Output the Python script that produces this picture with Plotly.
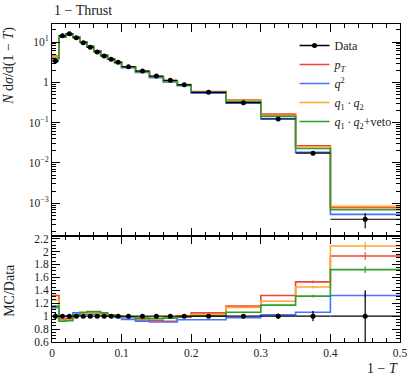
import plotly.graph_objects as go
from plotly.subplots import make_subplots

# 1-T binning (ALEPH thrust)
edges = [0, 0.01, 0.02, 0.03, 0.04, 0.05, 0.06, 0.07, 0.08, 0.09, 0.1,
         0.12, 0.14, 0.16, 0.18, 0.2, 0.25, 0.3, 0.35, 0.4, 0.5]

# measured N dsigma/d(1-T)
data = [3.4, 14.3, 16.1, 12.8, 9.6, 7.4, 5.65, 4.5, 3.72, 3.13,
        2.44, 1.91, 1.43, 1.12, 0.87, 0.565, 0.312, 0.123, 0.0174, 0.0004]
data_relerr = [0.05, 0.02, 0.02, 0.02, 0.02, 0.02, 0.02, 0.02, 0.02, 0.02,
               0.02, 0.02, 0.02, 0.02, 0.025, 0.03, 0.03, 0.04, 0.08, 0.4]

# MC / Data ratios
ratio_pt = [1.32, 0.95, 0.96, 1.02, 1.04, 1.04, 1.04, 1.03, 1.01, 1.0,
            0.98, 0.94, 0.93, 0.92, 0.985, 1.05, 1.155, 1.32, 1.53, 1.93]
ratio_q2 = [1.13, 1.0, 0.99, 1.05, 1.04, 1.03, 1.03, 1.02, 1.0, 0.98,
            0.95, 0.92, 0.91, 0.91, 0.945, 0.945, 0.975, 1.02, 1.06, 1.32]
ratio_q1q2 = [1.25, 0.935, 0.94, 1.02, 1.05, 1.05, 1.05, 1.03, 1.01, 1.0,
              0.985, 0.98, 0.97, 0.985, 1.01, 1.02, 1.135, 1.23, 1.45, 2.085]
ratio_veto = [1.155, 0.92, 0.93, 1.02, 1.06, 1.07, 1.07, 1.05, 1.02, 1.0,
              0.99, 0.97, 0.96, 0.97, 0.995, 1.0, 1.06, 1.17, 1.31, 1.72]
mc_relerr = [0.01, 0.003, 0.003, 0.003, 0.003, 0.003, 0.003, 0.003, 0.003, 0.003,
             0.003, 0.003, 0.003, 0.004, 0.004, 0.005, 0.006, 0.008, 0.015, 0.03]

generators = [
    ("<i>p</i><sub><i>T</i></sub>", "#EE4430", ratio_pt),
    ("<i>q</i><sup>2</sup>", "#4473FF", ratio_q2),
    ("<i>q</i><sub>1</sub>\u2009·\u2009<i>q</i><sub>2</sub>", "#FFA733", ratio_q1q2),
    ("<i>q</i><sub>1</sub>\u2009·\u2009<i>q</i><sub>2</sub>+veto", "#2E9E2E", ratio_veto),
]

FONT = "Liberation Serif"
centers = [(a + b) / 2 for a, b in zip(edges[:-1], edges[1:])]
halfw = [(b - a) / 2 for a, b in zip(edges[:-1], edges[1:])]

fig = make_subplots(rows=2, cols=1, shared_xaxes=True, vertical_spacing=0,
                    row_heights=[2 / 3, 1 / 3])

for rank, (name, color, ratio) in enumerate(generators):
    mc = [d * r for d, r in zip(data, ratio)]
    fig.add_trace(go.Scatter(x=edges, y=mc + [mc[-1]], mode="lines", name=name,
                             line=dict(color=color, width=1.6, shape="hv"),
                             legendrank=rank + 2), row=1, col=1)
    fig.add_trace(go.Scatter(x=centers, y=mc, mode="markers", showlegend=False,
                             marker=dict(size=1, color=color, opacity=0),
                             error_y=dict(type="data", array=[m * e for m, e in zip(mc, mc_relerr)],
                                          color=color, thickness=1.2, width=0)), row=1, col=1)
    fig.add_trace(go.Scatter(x=edges, y=ratio + [ratio[-1]], mode="lines", showlegend=False,
                             line=dict(color=color, width=1.6, shape="hv")), row=2, col=1)
    fig.add_trace(go.Scatter(x=centers, y=ratio, mode="markers", showlegend=False,
                             marker=dict(size=1, color=color, opacity=0),
                             error_y=dict(type="data", array=[r * e for r, e in zip(ratio, mc_relerr)],
                                          color=color, thickness=1.2, width=0)), row=2, col=1)

# data on top
fig.add_trace(go.Scatter(x=centers, y=data, mode="markers", showlegend=False,
                         marker=dict(size=5, color="black"),
                         error_x=dict(type="data", array=halfw, color="black", thickness=1.2, width=0),
                         error_y=dict(type="data", array=[d * e for d, e in zip(data, data_relerr)],
                                      color="black", thickness=1.2, width=0)), row=1, col=1)
fig.add_trace(go.Scatter(x=centers, y=[1] * len(centers), mode="markers", showlegend=False,
                         marker=dict(size=5, color="black"),
                         error_x=dict(type="data", array=halfw, color="black", thickness=1.2, width=0),
                         error_y=dict(type="data", array=data_relerr, color="black", thickness=1.2, width=0)),
              row=2, col=1)
# legend entry for data
fig.add_trace(go.Scatter(x=[None], y=[None], mode="lines+markers", name="Data", legendrank=1,
                         line=dict(color="black", width=1.6), marker=dict(size=5, color="black")),
              row=1, col=1)

axis_common = dict(showline=True, linecolor="black", linewidth=1, mirror="ticks",
                   ticks="inside", ticklen=8, tickcolor="black", showgrid=False, zeroline=False,
                   tickfont=dict(family=FONT, size=11.5, color="#222"))
minor_x = dict(dtick=0.02, ticks="inside", ticklen=4, tickcolor="black", showgrid=False)

fig.update_xaxes(range=[0, 0.5], tickvals=[0, 0.1, 0.2, 0.3, 0.4, 0.5], minor=minor_x, **axis_common)
fig.update_xaxes(showticklabels=False, row=1, col=1)
fig.update_xaxes(ticktext=["0", "0.1", "0.2", "0.3", "0.4", "0.5"], row=2, col=1)

log_minor = [k * 10 ** e for e in range(-4, 2) for k in range(2, 10)]
fig.update_yaxes(type="log", range=[-3.814, 1.447], tickvals=[1e-3, 1e-2, 1e-1, 1, 10],
                 ticktext=["10<sup>−3</sup>", "10<sup>−2</sup>", "10<sup>−1</sup>", "1", "10<sup>1</sup>"],
                 minor=dict(tickvals=log_minor, ticks="inside", ticklen=4, tickcolor="black", showgrid=False),
                 row=1, col=1, **axis_common)
fig.update_yaxes(range=[0.6, 2.24], tickvals=[0.6, 0.8, 1, 1.2, 1.4, 1.6, 1.8, 2, 2.2],
                 ticktext=["0.6", "0.8", "1", "1.2", "1.4", "1.6", "1.8", "2", "2.2"],
                 minor=dict(dtick=0.05, ticks="inside", ticklen=4, tickcolor="black", showgrid=False),
                 row=2, col=1, **axis_common)

fig.add_annotation(text="1 − Thrust", xref="paper", yref="paper", x=0, y=1.044,
                   xanchor="left", yanchor="middle", showarrow=False,
                   font=dict(family=FONT, size=14, color="#222"))
fig.add_annotation(text="<i>N</i> d<i>σ</i>/d(1 − <i>T</i>)", xref="paper", yref="paper",
                   x=-0.124, y=0.997, xanchor="center", yanchor="top", textangle=-90,
                   showarrow=False, font=dict(family=FONT, size=14, color="#222"))
fig.add_annotation(text="MC/Data", xref="paper", yref="paper", x=-0.124, y=0.1635,
                   xanchor="center", yanchor="middle", textangle=-90, showarrow=False,
                   font=dict(family=FONT, size=14, color="#222"))
fig.add_annotation(text="1 − <i>T</i>", xref="paper", yref="paper", x=1, y=-0.082,
                   xanchor="right", yanchor="middle", showarrow=False,
                   font=dict(family=FONT, size=14, color="#222"))

fig.update_layout(
    width=419, height=378,
    margin=dict(l=52, r=14, t=24, b=36),
    paper_bgcolor="white", plot_bgcolor="white",
    font=dict(family=FONT, size=12, color="#222"),
    legend=dict(x=0.697, y=0.978, xanchor="left", yanchor="top", bgcolor="rgba(0,0,0,0)",
                font=dict(family=FONT, size=12, color="#222"), tracegroupgap=0),
)

# drop the default 8px page margin so the figure sits at the window origin
fig.write_html("out.html", config={"displayModeBar": False},
               post_script="document.body.style.margin='0px';")
